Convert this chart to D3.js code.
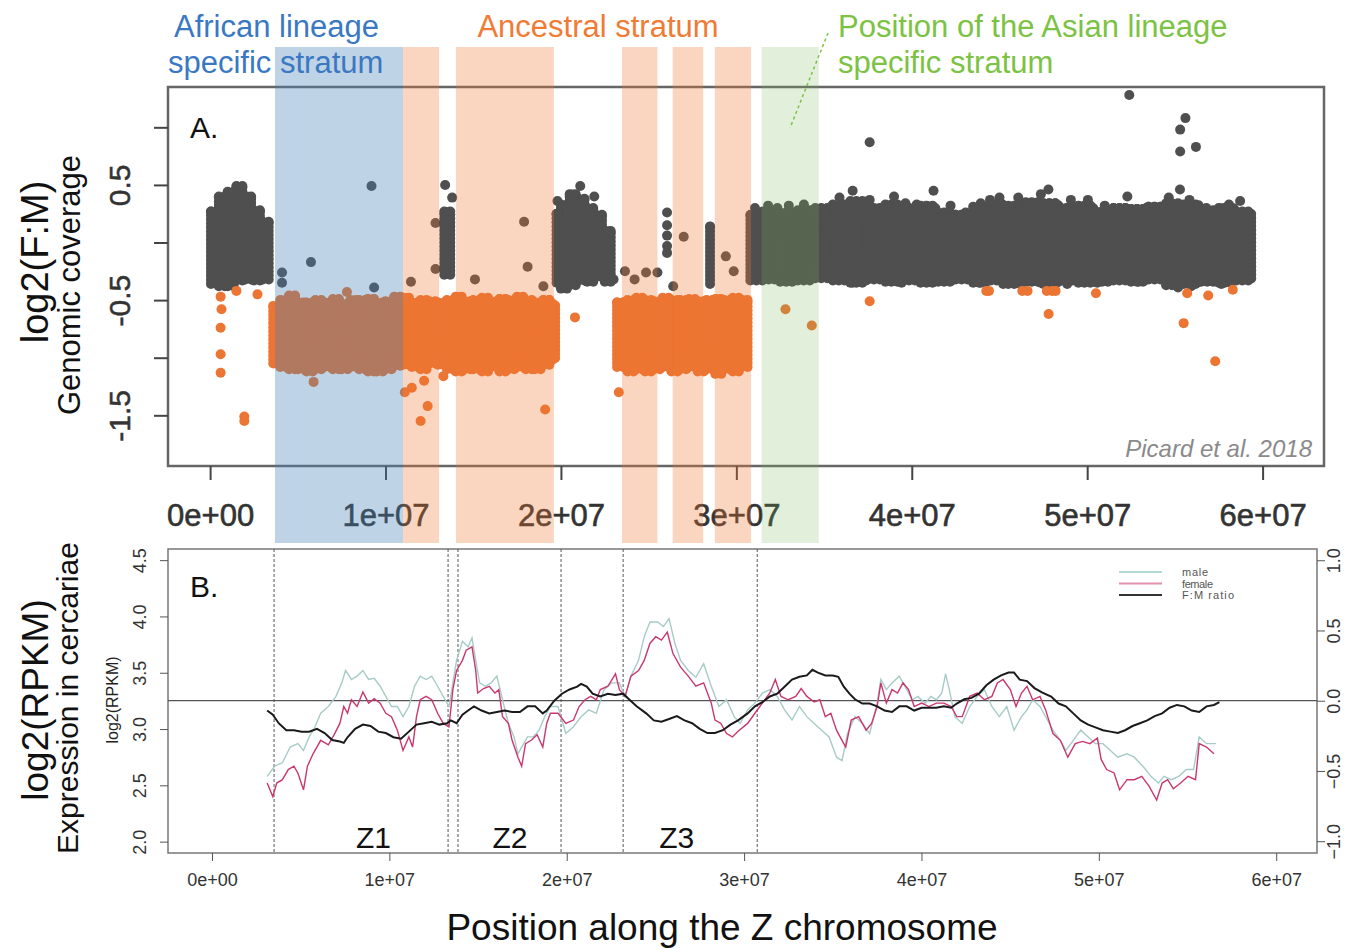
<!DOCTYPE html>
<html>
<head>
<meta charset="utf-8">
<script src="https://cdn.jsdelivr.net/npm/d3@7"></script>
<style>
  body { margin: 0; background: #fff; }
  svg { display: block; font-family: "Liberation Sans", Arial, sans-serif; }
</style>
</head>
<body>
<script>
// ---------- data (positions in Mb) ----------

// strata shown as shaded bands
const strata = [
  [3.70, 11.00, "african"],
  [11.00, 13.05, "ancestral"],
  [14.02, 19.60, "ancestral"],
  [23.48, 25.50, "ancestral"],
  [26.37, 28.11, "ancestral"],
  [28.77, 30.84, "ancestral"],
  [31.44, 34.70, "asian"]
];

// dense clouds of windows: [fromMb, toMb, low, high] of log2(F:M)
const greyClouds = [
  [0.05, 0.5, -0.36, 0.27], [0.5, 1.0, -0.38, 0.40], [1.0, 1.5, -0.38, 0.44], [1.5, 2.0, -0.33, 0.49],
  [2.0, 2.5, -0.32, 0.40], [2.5, 3.0, -0.33, 0.28], [3.0, 3.45, -0.32, 0.18],
  [13.35, 13.85, -0.28, 0.27],
  [19.75, 20.0, -0.35, 0.25], [20.0, 20.5, -0.40, 0.33], [20.5, 21.0, -0.37, 0.42], [21.0, 21.5, -0.33, 0.38],
  [21.5, 22.0, -0.34, 0.30], [22.0, 22.5, -0.30, 0.24], [22.5, 23.0, -0.34, 0.10],
  [28.5, 28.6, -0.36, 0.14],
  [30.8, 31.5, -0.33, 0.24], [31.5, 32.5, -0.32, 0.27], [32.5, 33.5, -0.34, 0.26], [33.5, 34.5, -0.33, 0.28],
  [34.5, 35.5, -0.31, 0.30], [35.5, 36.5, -0.33, 0.33], [36.5, 37.5, -0.35, 0.36], [37.5, 38.5, -0.32, 0.30],
  [38.5, 39.5, -0.34, 0.33], [39.5, 40.5, -0.33, 0.30], [40.5, 41.5, -0.35, 0.32], [41.5, 42.5, -0.34, 0.26],
  [42.5, 43.5, -0.32, 0.24], [43.5, 44.5, -0.35, 0.31], [44.5, 45.5, -0.33, 0.33], [45.5, 46.5, -0.36, 0.32],
  [46.5, 47.5, -0.34, 0.35], [47.5, 48.5, -0.36, 0.34], [48.5, 49.5, -0.33, 0.30], [49.5, 50.5, -0.35, 0.32],
  [50.5, 51.5, -0.34, 0.27], [51.5, 52.5, -0.33, 0.30], [52.5, 53.5, -0.34, 0.29], [53.5, 54.5, -0.32, 0.31],
  [54.5, 55.5, -0.37, 0.34], [55.5, 56.5, -0.36, 0.33], [56.5, 57.5, -0.34, 0.28], [57.5, 58.5, -0.35, 0.30],
  [58.5, 59.4, -0.33, 0.27]
];

const orangeClouds = [
  [3.6, 4.0, -1.05, -0.55], [4.0, 4.5, -1.08, -0.50], [4.5, 5.0, -1.10, -0.46], [5.0, 5.5, -1.10, -0.52],
  [5.5, 6.0, -1.12, -0.52], [6.0, 6.5, -1.10, -0.50], [6.5, 7.0, -1.08, -0.52], [7.0, 7.5, -1.10, -0.49],
  [7.5, 8.0, -1.10, -0.53], [8.0, 8.5, -1.08, -0.50], [8.5, 9.0, -1.10, -0.50], [9.0, 9.5, -1.12, -0.49],
  [9.5, 10.0, -1.12, -0.52], [10.0, 10.5, -1.10, -0.51], [10.5, 11.0, -1.07, -0.47], [11.0, 11.5, -1.06, -0.48],
  [11.5, 12.0, -1.08, -0.52], [12.0, 12.5, -1.10, -0.50], [12.5, 13.0, -1.05, -0.51], [13.0, 13.5, -1.06, -0.52],
  [13.5, 14.0, -1.10, -0.50], [14.0, 14.5, -1.12, -0.47], [14.5, 15.0, -1.10, -0.51], [15.0, 15.5, -1.10, -0.50],
  [15.5, 16.0, -1.12, -0.48], [16.0, 16.5, -1.08, -0.51], [16.5, 17.0, -1.12, -0.49], [17.0, 17.5, -1.10, -0.50],
  [17.5, 18.0, -1.08, -0.47], [18.0, 18.5, -1.10, -0.50], [18.5, 19.0, -1.10, -0.52], [19.0, 19.5, -1.06, -0.50],
  [19.5, 19.7, -1.02, -0.53],
  [23.2, 23.8, -1.08, -0.52], [23.8, 24.3, -1.12, -0.50], [24.3, 24.8, -1.10, -0.48], [24.8, 25.3, -1.12, -0.50],
  [25.3, 25.8, -1.10, -0.51], [25.8, 26.3, -1.08, -0.48], [26.3, 26.8, -1.12, -0.50], [26.8, 27.3, -1.10, -0.50],
  [27.3, 27.8, -1.08, -0.49], [27.8, 28.3, -1.12, -0.51], [28.3, 28.8, -1.10, -0.50], [28.8, 29.3, -1.14, -0.49],
  [29.3, 29.8, -1.10, -0.50], [29.8, 30.3, -1.12, -0.48], [30.3, 30.8, -1.08, -0.50]
];

// isolated windows: [Mb, log2(F:M)]
const greyPoints = [
  [4.1, -0.26], [4.1, -0.35], [5.75, -0.17], [9.2, 0.49], [9.35, -0.39], [11.45, -0.34],
  [12.85, 0.17], [12.85, -0.23], [13.4, 0.50], [13.8, 0.39], [15.1, -0.32], [17.9, 0.18],
  [18.1, -0.21], [19.0, -0.38], [19.8, 0.36], [21.1, 0.49], [21.9, 0.40], [23.0, -0.32],
  [23.65, -0.25], [24.2, -0.32], [24.85, -0.26], [25.5, -0.26], [26.05, 0.26], [26.05, 0.15],
  [26.05, 0.06], [26.05, -0.03], [26.05, -0.09], [26.4, -0.38], [27.0, 0.05], [29.4, -0.12],
  [29.85, -0.25], [37.6, 0.87], [52.4, 1.28], [55.6, 1.08], [55.3, 0.98], [55.3, 0.79], [56.2, 0.83]
];

// windows sticking out of the edges of the main grey cloud
const greyEdgePoints = [
  [31.06, 0.30], [31.81, 0.32], [32.34, 0.30], [32.99, 0.32], [33.85, 0.33], [35.13, 0.27],
  [35.88, 0.39], [36.63, 0.45], [37.60, 0.37], [38.99, 0.40], [39.64, 0.34], [40.28, 0.33],
  [41.24, 0.45], [42.21, 0.32], [43.07, 0.26], [43.93, 0.34], [44.46, 0.37], [45.00, 0.39],
  [46.07, 0.39], [46.71, 0.32], [47.36, 0.42], [47.79, 0.46], [49.07, 0.37], [50.04, 0.37],
  [51.00, 0.32], [52.29, 0.40], [53.36, 0.30], [54.65, 0.39], [55.29, 0.46], [55.83, 0.37],
  [56.79, 0.30], [58.08, 0.33], [58.72, 0.36],
  [36.63, -0.35], [39.42, -0.35], [42.21, -0.32], [43.93, -0.35], [45.21, -0.36], [47.36, -0.35],
  [48.86, -0.36], [50.57, -0.35], [52.93, -0.34], [55.18, -0.39], [55.93, -0.38], [57.65, -0.36]
];

const orangePoints = [
  [0.6, -0.47], [0.65, -0.58], [0.6, -0.74], [0.6, -0.97], [0.6, -1.13], [1.5, -0.42],
  [2.7, -0.45], [1.95, -1.51], [1.95, -1.55], [5.9, -1.21], [7.8, -0.43], [11.1, -1.30],
  [11.5, -1.26], [12.2, -1.20], [12.4, -1.42], [12.0, -1.55], [13.3, -1.16], [19.1, -1.45],
  [20.8, -0.65], [23.3, -1.30], [32.8, -0.58], [34.3, -0.72], [37.6, -0.51], [44.25, -0.42],
  [44.4, -0.42], [46.3, -0.42], [46.6, -0.42], [47.7, -0.42], [48.0, -0.42], [48.2, -0.42],
  [50.5, -0.44], [47.8, -0.62], [55.7, -0.44], [55.5, -0.70], [56.9, -0.46], [57.3, -1.03],
  [58.3, -0.41]
];

// panel B: sliding-window expression, [Mb, log2(RPKM)]
const maleSeries = [
  [3.11,2.58],[3.54,2.67],[3.97,2.70],[4.41,2.84],[4.84,2.87],[5.16,2.81],[5.48,2.93],[5.81,3.02],
  [6.13,3.14],[6.56,3.20],[6.99,3.29],[7.32,3.41],[7.53,3.52],[7.86,3.44],[8.18,3.47],[8.51,3.52],
  [8.83,3.44],[9.15,3.45],[9.48,3.38],[9.80,3.29],[10.12,3.20],[10.45,3.20],[10.77,3.11],[11.10,3.20],
  [11.42,3.38],[11.74,3.47],[12.07,3.44],[12.39,3.47],[12.72,3.38],[13.04,3.29],[13.36,3.20],[13.58,3.41],
  [13.79,3.61],[14.12,3.78],[14.44,3.73],[14.66,3.81],[14.87,3.61],[15.09,3.41],[15.41,3.38],[15.74,3.41],
  [16.06,3.47],[16.38,3.26],[16.71,3.05],[17.03,2.93],[17.25,2.78],[17.46,2.84],[17.79,2.93],[18.11,2.93],
  [18.44,2.99],[18.76,3.11],[19.08,3.20],[19.51,3.20],[19.95,2.96],[20.38,3.02],[20.81,3.11],[21.24,3.17],
  [21.67,3.14],[22.10,3.35],[22.54,3.41],[22.97,3.41],[23.29,3.29],[23.62,3.47],[24.05,3.61],[24.37,3.82],
  [24.69,3.95],[25.13,3.95],[25.45,3.91],[25.77,3.98],[26.10,3.76],[26.42,3.61],[26.85,3.52],[27.28,3.46],
  [27.72,3.58],[28.15,3.38],[28.58,3.20],[29.01,3.26],[29.44,3.11],[29.78,3.05],[30.20,3.17],[30.61,3.23],
  [31.03,3.32],[31.45,3.35],[31.87,3.29],[32.28,3.17],[32.70,3.08],[33.12,3.20],[33.54,3.11],[33.95,3.05],
  [34.37,2.99],[34.79,2.93],[35.21,2.75],[35.52,2.72],[35.83,2.96],[36.25,3.11],[36.67,3.05],[37.08,2.96],
  [37.50,3.23],[37.71,3.44],[38.02,3.35],[38.34,3.41],[38.75,3.47],[39.17,3.35],[39.48,3.26],[39.80,3.29],
  [40.21,3.23],[40.53,3.29],[40.84,3.26],[41.15,3.32],[41.36,3.49],[41.57,3.35],[41.88,3.11],[42.30,3.05],
  [42.72,3.20],[43.14,3.29],[43.55,3.35],[43.97,3.20],[44.39,3.11],[44.81,3.20],[45.22,2.99],[45.64,3.11],
  [45.95,3.17],[46.27,3.26],[46.68,3.20],[47.10,3.08],[47.41,2.99],[47.83,2.90],[48.14,2.81],[48.56,2.90],
  [48.98,2.99],[49.40,2.93],[49.81,2.87],[50.23,2.87],[50.65,2.81],[51.07,2.75],[51.59,2.78],[52.00,2.75],
  [52.53,2.66],[52.94,2.58],[53.36,2.52],[53.67,2.58],[54.09,2.55],[54.51,2.58],[54.93,2.64],[55.34,2.64],
  [55.66,2.93],[56.07,2.87],[56.60,2.87]
];

const femaleSeries = [
  [3.11,2.52],[3.43,2.40],[3.65,2.52],[3.97,2.55],[4.30,2.64],[4.62,2.67],[4.84,2.61],[5.16,2.46],
  [5.38,2.67],[5.70,2.78],[6.13,2.90],[6.56,2.86],[6.89,2.95],[7.21,3.05],[7.43,3.20],[7.64,3.14],
  [7.86,3.26],[8.18,3.20],[8.51,3.33],[8.83,3.23],[9.15,3.27],[9.48,3.23],[9.80,3.14],[10.12,3.11],
  [10.45,2.99],[10.77,2.81],[11.10,2.93],[11.31,2.84],[11.53,3.11],[11.74,3.26],[12.07,3.29],[12.39,3.26],
  [12.72,3.14],[13.04,3.05],[13.36,3.02],[13.58,3.35],[13.79,3.52],[14.12,3.61],[14.33,3.70],[14.66,3.73],
  [14.87,3.52],[14.98,3.32],[15.31,3.36],[15.63,3.38],[15.95,3.32],[16.17,3.35],[16.38,3.11],[16.71,3.05],
  [16.92,2.90],[17.25,2.75],[17.46,2.67],[17.68,2.87],[18.00,2.90],[18.33,2.95],[18.65,2.84],[18.87,3.05],
  [19.08,3.14],[19.51,3.14],[19.95,3.05],[20.38,3.08],[20.70,3.20],[21.03,3.26],[21.35,3.29],[21.67,3.26],
  [21.89,3.35],[22.32,3.38],[22.75,3.49],[22.97,3.35],[23.29,3.29],[23.62,3.47],[24.05,3.52],[24.37,3.61],
  [24.69,3.76],[25.02,3.82],[25.34,3.79],[25.67,3.86],[25.99,3.67],[26.42,3.55],[26.85,3.47],[27.28,3.38],
  [27.72,3.41],[28.15,3.23],[28.36,3.08],[28.69,3.05],[29.01,2.96],[29.34,2.93],[29.66,2.98],[30.20,3.05],
  [30.61,3.14],[31.03,3.23],[31.45,3.32],[31.76,3.44],[32.08,3.29],[32.49,3.26],[32.91,3.29],[33.22,3.36],
  [33.54,3.29],[33.95,3.24],[34.27,3.26],[34.58,3.11],[34.89,3.14],[35.21,2.99],[35.52,2.90],[35.73,2.84],
  [36.04,3.08],[36.46,3.11],[36.88,2.99],[37.19,3.05],[37.50,3.20],[37.71,3.41],[38.02,3.23],[38.34,3.35],
  [38.65,3.32],[38.96,3.41],[39.27,3.35],[39.59,3.20],[40.01,3.23],[40.42,3.20],[40.84,3.23],[41.26,3.23],
  [41.67,3.20],[41.99,3.11],[42.30,3.11],[42.72,3.29],[43.14,3.32],[43.55,3.26],[43.97,3.29],[44.28,3.41],
  [44.60,3.44],[45.01,3.35],[45.33,3.20],[45.64,3.32],[45.95,3.38],[46.27,3.26],[46.68,3.29],[47.00,3.17],
  [47.41,2.96],[47.83,2.90],[48.25,2.75],[48.67,2.87],[49.08,2.89],[49.50,2.87],[49.92,2.92],[50.13,2.73],
  [50.44,2.64],[50.86,2.61],[51.17,2.46],[51.59,2.55],[52.00,2.55],[52.42,2.58],[52.84,2.49],[53.26,2.37],
  [53.57,2.52],[53.88,2.55],[54.20,2.47],[54.61,2.52],[55.03,2.58],[55.45,2.55],[55.66,2.87],[56.07,2.84],
  [56.49,2.78]
];

// F:M ratio on the right axis
const ratioSeries = [
  [3.11,-0.07],[3.43,-0.10],[3.76,-0.16],[4.19,-0.21],[4.62,-0.21],[5.05,-0.22],[5.48,-0.22],[5.92,-0.20],
  [6.35,-0.23],[6.78,-0.28],[7.21,-0.29],[7.43,-0.30],[7.64,-0.26],[8.07,-0.20],[8.51,-0.17],[8.94,-0.18],
  [9.37,-0.22],[9.80,-0.23],[10.23,-0.26],[10.66,-0.27],[11.10,-0.22],[11.53,-0.17],[11.96,-0.16],[12.39,-0.15],
  [12.82,-0.17],[13.25,-0.16],[13.47,-0.14],[13.79,-0.16],[14.12,-0.10],[14.44,-0.07],[14.77,-0.04],[15.20,-0.07],
  [15.63,-0.09],[16.06,-0.08],[16.49,-0.07],[16.92,-0.08],[17.36,-0.08],[17.79,-0.04],[18.22,-0.04],[18.65,-0.09],
  [18.87,-0.07],[19.30,0.00],[19.73,0.05],[20.16,0.08],[20.59,0.10],[20.81,0.12],[21.13,0.10],[21.46,0.05],
  [21.89,0.03],[22.32,0.05],[22.75,0.04],[23.18,0.05],[23.51,0.01],[23.94,-0.04],[24.48,-0.09],[24.91,-0.14],
  [25.34,-0.15],[25.77,-0.13],[26.21,-0.11],[26.64,-0.14],[27.07,-0.16],[27.50,-0.20],[27.93,-0.23],[28.36,-0.23],
  [28.80,-0.21],[29.23,-0.17],[29.66,-0.14],[30.20,-0.09],[30.61,-0.04],[31.03,-0.01],[31.45,0.03],[31.87,0.05],
  [32.28,0.10],[32.70,0.15],[33.12,0.17],[33.54,0.18],[33.85,0.22],[34.16,0.20],[34.58,0.18],[35.00,0.18],
  [35.31,0.17],[35.62,0.10],[35.94,0.05],[36.25,0.01],[36.67,-0.02],[37.08,-0.02],[37.50,-0.04],[37.92,-0.07],
  [38.34,-0.08],[38.75,-0.04],[39.17,-0.04],[39.59,-0.07],[40.01,-0.05],[40.42,-0.05],[40.84,-0.05],[41.26,-0.04],
  [41.67,-0.05],[41.99,-0.02],[42.41,0.01],[42.82,0.02],[43.24,0.05],[43.66,0.11],[44.07,0.15],[44.49,0.18],
  [44.91,0.20],[45.22,0.20],[45.54,0.15],[45.95,0.14],[46.37,0.09],[46.79,0.06],[47.31,0.03],[47.73,-0.02],
  [48.14,-0.04],[48.56,-0.09],[48.98,-0.14],[49.40,-0.17],[49.81,-0.19],[50.23,-0.21],[50.65,-0.22],[51.07,-0.23],
  [51.48,-0.21],[51.90,-0.18],[52.32,-0.16],[52.73,-0.14],[53.15,-0.11],[53.57,-0.09],[53.99,-0.05],[54.40,-0.03],
  [54.82,-0.04],[55.24,-0.07],[55.66,-0.08],[56.07,-0.04],[56.49,-0.03],[56.80,-0.01]
];

// stratum boundaries (dashed) and labels in panel B
const boundariesMb = [3.50, 13.31, 13.87, 19.68, 23.18, 30.74];
const zoneLabels = [["Z1", 9.1], ["Z2", 16.8], ["Z3", 26.2]];

const xTicks = [0, 1e7, 2e7, 3e7, 4e7, 5e7, 6e7];
const yTicksA = [-1.5, -1, -0.5, 0, 0.5, 1];
const yLabelsA = [0.5, -0.5, -1.5];
const yTicksB = [2, 2.5, 3, 3.5, 4, 4.5];
const yTicksRatio = [-1, -0.5, 0, 0.5, 1];
const legendNames = ["male", "female", "F:M ratio"];

// ---------- drawing ----------
const W = 1367, H = 949;
const svg = d3.select("body").append("svg").attr("width", W).attr("height", H);

const fmtX = d => d === 0 ? "0e+00" : (d / 1e7) + "e+07";
const MB = 1e6;

// panel A
const A = { left: 168, right: 1324, top: 87, bottom: 466 };
const xA = d3.scaleLinear().domain([-0.24e7, 6.35e7]).range([A.left, A.right]);
const yA = d3.scaleLinear().domain([-1.94, 1.35]).range([A.bottom, A.top]);

const grey = "#4f4f4f", orange = "#ec7533";
const bandColor = { african: "#4682b4", ancestral: "#f07832", asian: "#78b45a" };
const bandAlpha = { african: 0.35, ancestral: 0.3, asian: 0.22 };

// each window cloud becomes a stack of overlapping dots
function cloudDots(c) {
  const pts = [];
  const colStep = 0.17, rowStep = 0.035;
  let i = 0;
  for (let x = c[0]; x <= c[1] + 1e-9; x += colStep, i++) {
    const off = (i % 2) * rowStep / 2;
    for (let y = c[2] + off; y <= c[3] + 1e-9; y += rowStep) pts.push([x, y]);
    if (i % 2 === 0) pts.push([x, c[3]]);
  }
  return pts;
}

const gA = svg.append("g");
gA.append("rect")
  .attr("x", A.left).attr("y", A.top)
  .attr("width", A.right - A.left).attr("height", A.bottom - A.top)
  .attr("fill", "none").attr("stroke", "#666").attr("stroke-width", 2.5);

const dotR = 5;
function drawDots(data, color) {
  gA.append("g").selectAll("circle").data(data).join("circle")
    .attr("cx", d => xA(d[0] * MB)).attr("cy", d => yA(d[1]))
    .attr("r", dotR).attr("fill", color);
}
drawDots(greyClouds.flatMap(cloudDots), grey);
drawDots(greyEdgePoints, grey);
drawDots(greyPoints, grey);
drawDots(orangeClouds.flatMap(cloudDots), orange);
drawDots(orangePoints, orange);

// axes A
const axA = gA.append("g").attr("transform", `translate(0,${A.bottom})`)
  .call(d3.axisBottom(xA).tickValues(xTicks).tickFormat(fmtX).tickSize(14).tickPadding(24));
axA.select(".domain").remove();
axA.selectAll("line").attr("stroke", "#444").attr("stroke-width", 2);
axA.selectAll("text").attr("font-size", 31).attr("fill", "#333")
  .attr("stroke", "#333").attr("stroke-width", 0.6).attr("font-family", "Liberation Sans, Arial");

const ayA = gA.append("g").attr("transform", `translate(${A.left},0)`)
  .call(d3.axisLeft(yA).tickValues(yTicksA).tickSize(14)
    .tickFormat(d => yLabelsA.includes(d) ? String(d) : ""));
ayA.select(".domain").remove();
ayA.selectAll("line").attr("stroke", "#444").attr("stroke-width", 2);
ayA.selectAll("text")
  .attr("x", 0).attr("y", -38).attr("dy", 0)
  .attr("transform", "rotate(-90)").attr("text-anchor", "middle")
  .attr("font-size", 30).attr("fill", "#333").attr("stroke", "#333").attr("stroke-width", 0.5)
  .attr("font-family", "Liberation Sans, Arial");

// strata bands over everything in panel A
gA.append("g").selectAll("rect").data(strata).join("rect")
  .attr("x", d => xA(d[0] * MB)).attr("width", d => xA(d[1] * MB) - xA(d[0] * MB))
  .attr("y", 47).attr("height", 496)
  .attr("fill", d => bandColor[d[2]]).attr("fill-opacity", d => bandAlpha[d[2]]);

gA.append("text").attr("x", 190).attr("y", 138).attr("font-size", 30).attr("fill", "#111").text("A.");
gA.append("text").attr("x", 1312).attr("y", 457).attr("text-anchor", "end")
  .attr("font-size", 24).attr("font-style", "italic").attr("fill", "#8a8a8a").text("Picard et al. 2018");

// top labels
const topLabels = svg.append("g").attr("font-size", 31);
topLabels.append("text").attr("x", 174).attr("y", 37).attr("fill", "#3a78c3").text("African lineage");
topLabels.append("text").attr("x", 168).attr("y", 73).attr("fill", "#3a78c3").text("specific stratum");
topLabels.append("text").attr("x", 598).attr("y", 37).attr("text-anchor", "middle").attr("fill", "#f07b35").text("Ancestral stratum");
topLabels.append("text").attr("x", 838).attr("y", 37).attr("fill", "#7cc243").text("Position of the Asian lineage");
topLabels.append("text").attr("x", 838).attr("y", 73).attr("fill", "#7cc243").text("specific stratum");
svg.append("line").attr("x1", 828).attr("y1", 33).attr("x2", 790).attr("y2", 128)
  .attr("stroke", "#7cc243").attr("stroke-width", 1.5).attr("stroke-dasharray", "3,3");

// y titles A
svg.append("text").attr("transform", "translate(48,262) rotate(-90)").attr("text-anchor", "middle")
  .attr("font-size", 38).attr("fill", "#111").text("log2(F:M)");
svg.append("text").attr("transform", "translate(80,285) rotate(-90)").attr("text-anchor", "middle")
  .attr("font-size", 31).attr("fill", "#111").text("Genomic coverage");

// panel B
const B = { left: 168, right: 1317, top: 549, bottom: 853 };
const xB = d3.scaleLinear().domain([-0.248e7, 6.23e7]).range([B.left, B.right]);
const yB = d3.scaleLinear().domain([1.899, 4.599]).range([B.bottom, B.top]);
const yR = d3.scaleLinear().domain([-1.084, 1.080]).range([B.bottom, B.top]);

const gB = svg.append("g");
gB.append("rect")
  .attr("x", B.left).attr("y", B.top)
  .attr("width", B.right - B.left).attr("height", B.bottom - B.top)
  .attr("fill", "none").attr("stroke", "#777").attr("stroke-width", 1.5);

gB.append("g").selectAll("line").data(boundariesMb).join("line")
  .attr("x1", d => xB(d * MB)).attr("x2", d => xB(d * MB))
  .attr("y1", B.top).attr("y2", B.bottom)
  .attr("stroke", "#555").attr("stroke-width", 1).attr("stroke-dasharray", "3,2");

gB.append("line").attr("x1", B.left).attr("x2", B.right)
  .attr("y1", yR(0)).attr("y2", yR(0)).attr("stroke", "#555").attr("stroke-width", 1.2);

const lineL = d3.line().x(d => xB(d[0] * MB)).y(d => yB(d[1]));
const lineR = d3.line().x(d => xB(d[0] * MB)).y(d => yR(d[1]));
gB.append("path").datum(maleSeries).attr("d", lineL).attr("fill", "none")
  .attr("stroke", "#a7cbc6").attr("stroke-width", 1.4);
gB.append("path").datum(femaleSeries).attr("d", lineL).attr("fill", "none")
  .attr("stroke", "#c8386e").attr("stroke-width", 1.4);
gB.append("path").datum(ratioSeries).attr("d", lineR).attr("fill", "none")
  .attr("stroke", "#1a1a1a").attr("stroke-width", 2);

gB.append("g").selectAll("text").data(zoneLabels).join("text")
  .attr("x", d => xB(d[1] * MB)).attr("y", 848).attr("text-anchor", "middle")
  .attr("font-size", 30).attr("fill", "#111").text(d => d[0]);

gB.append("text").attr("x", 190).attr("y", 597).attr("font-size", 30).attr("fill", "#111").text("B.");

// legend
const legColors = ["#b5dad4", "#e48eb0", "#333"];
const leg = gB.append("g").selectAll("g").data(legendNames).join("g")
  .attr("transform", (d, i) => `translate(1119,${572 + i * 11.5})`);
leg.append("line").attr("x1", 0).attr("x2", 43).attr("stroke", (d, i) => legColors[i]).attr("stroke-width", 2);
leg.append("text").attr("x", 63).attr("y", 4).attr("font-size", 11).attr("fill", "#555")
  .attr("textLength", (d, i) => [26, 31, 52][i]).text(d => d);

// axes B
const axB = gB.append("g").attr("transform", `translate(0,${B.bottom})`)
  .call(d3.axisBottom(xB).tickValues(xTicks).tickFormat(fmtX).tickSize(8).tickPadding(12));
axB.select(".domain").remove();
axB.selectAll("line").attr("stroke", "#555");
axB.selectAll("text").attr("font-size", 18).attr("fill", "#333").attr("font-family", "Liberation Sans, Arial");

const ayB = gB.append("g").attr("transform", `translate(${B.left},0)`)
  .call(d3.axisLeft(yB).tickValues(yTicksB).tickSize(8).tickFormat(d3.format(".1f")));
ayB.select(".domain").remove();
ayB.selectAll("line").attr("stroke", "#555");
ayB.selectAll("text").attr("x", 0).attr("y", -22).attr("dy", 0)
  .attr("transform", "rotate(-90)").attr("text-anchor", "middle")
  .attr("font-size", 18).attr("fill", "#333").attr("font-family", "Liberation Sans, Arial");

const ayR = gB.append("g").attr("transform", `translate(${B.right},0)`)
  .call(d3.axisRight(yR).tickValues(yTicksRatio).tickSize(8).tickFormat(d3.format(".1f")));
ayR.select(".domain").remove();
ayR.selectAll("line").attr("stroke", "#555");
ayR.selectAll("text").attr("x", 0).attr("y", 23).attr("dy", 0)
  .attr("transform", "rotate(-90)").attr("text-anchor", "middle")
  .attr("font-size", 18).attr("fill", "#333").attr("font-family", "Liberation Sans, Arial");

// titles B
svg.append("text").attr("transform", "translate(48,700) rotate(-90)").attr("text-anchor", "middle")
  .attr("font-size", 37).attr("fill", "#111").text("log2(RPKM)");
svg.append("text").attr("transform", "translate(78,698) rotate(-90)").attr("text-anchor", "middle")
  .attr("font-size", 30).attr("fill", "#111").text("Expression in cercariae");
svg.append("text").attr("transform", "translate(118,700) rotate(-90)").attr("text-anchor", "middle")
  .attr("font-size", 16).attr("fill", "#222").text("log2(RPKM)");
svg.append("text").attr("x", 722).attr("y", 940).attr("text-anchor", "middle")
  .attr("font-size", 37).attr("fill", "#111").text("Position along the Z chromosome");
</script>
</body>
</html>
